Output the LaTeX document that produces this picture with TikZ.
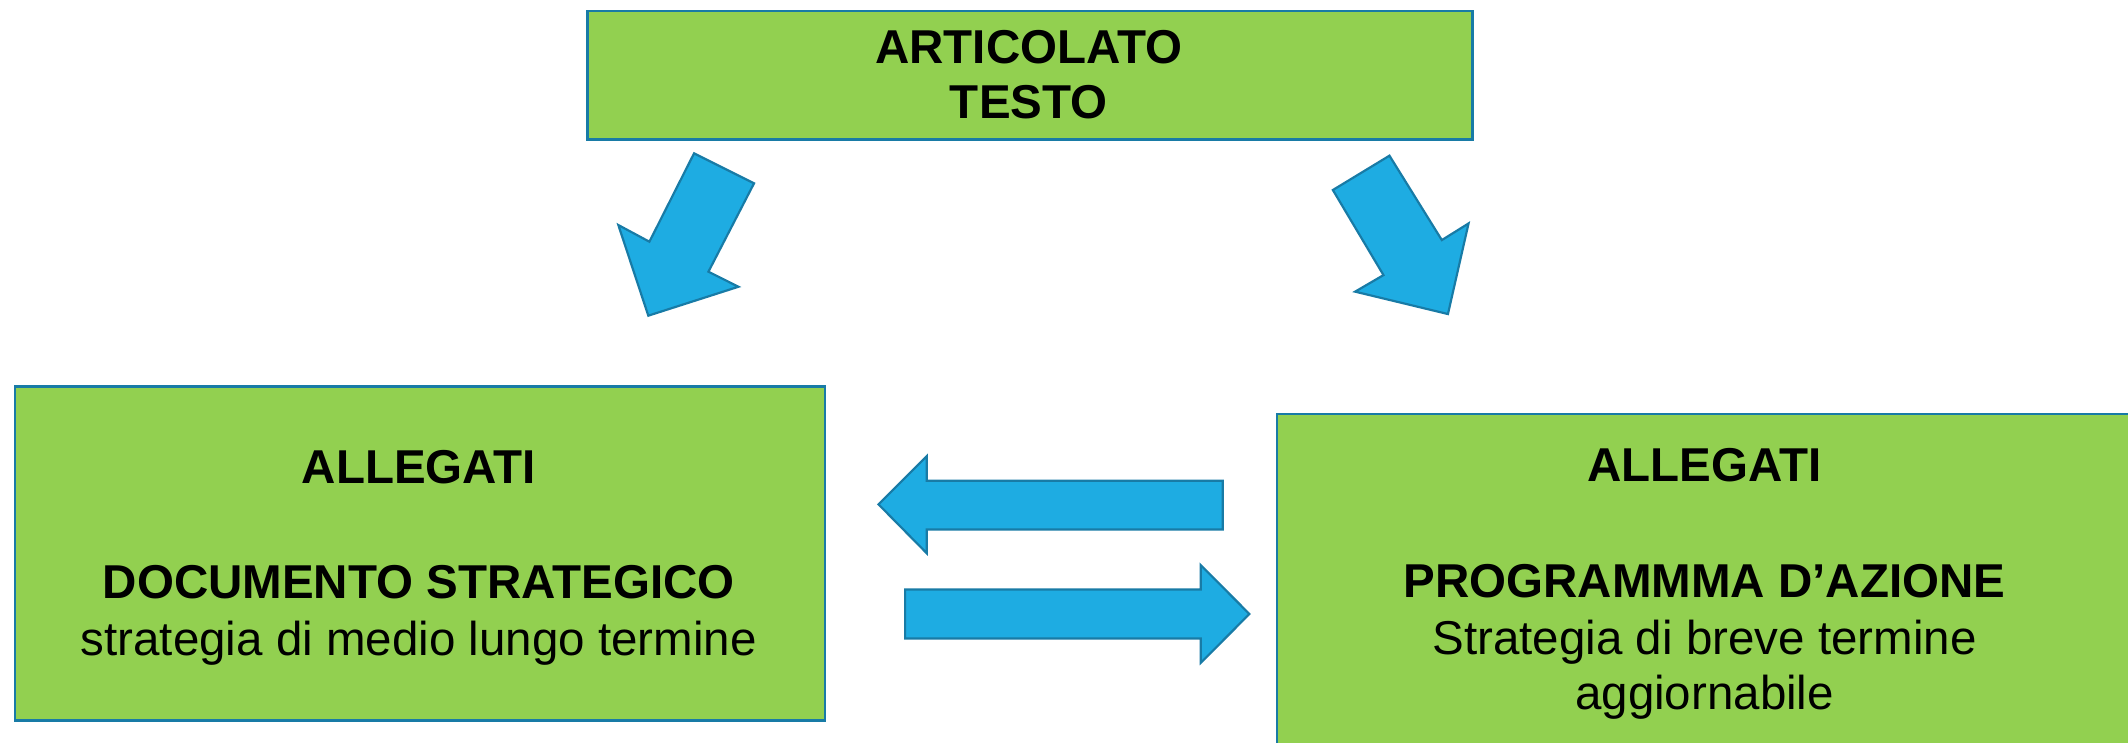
\documentclass[tikz,border=0pt]{standalone}
\usepackage{fontspec}
\setmainfont{Liberation Sans}
\definecolor{boxgreen}{RGB}{146,208,80}
\definecolor{edgeblue}{RGB}{24,123,166}
\definecolor{arrowblue}{RGB}{30,172,226}
\tikzset{
  greenbox/.style={draw=edgeblue, fill=boxgreen, line width=1.8pt, rectangle, inner sep=0pt, anchor=north west},
  txt/.style={anchor=base, inner sep=0pt, font=\fontsize{35}{42}\selectfont},
  btxt/.style={txt, font=\fontsize{35}{42}\selectfont\bfseries},
  blockarrow/.style={draw=edgeblue, fill=arrowblue, line width=1.6pt, line join=miter},
}
\begin{document}
\begin{tikzpicture}[x=1pt,y=-1pt]
\clip (0,0) rectangle (1568,547);
\useasboundingbox (0,0) rectangle (1568,547);
% boxes
\node[greenbox, minimum width=652pt, minimum height=95pt] (top) at (432,7) {};
\node[greenbox, minimum width=597pt, minimum height=246pt] (left) at (10,284) {};
\node[greenbox, minimum width=632pt, minimum height=270pt] (right) at (940,304) {};
% texts
\node[btxt] (t1) at (758,46.5) {ARTICOLATO};
\node[btxt] (t2) at (758,87) {TESTO};
\node[btxt] (l1) at (308.5,356) {ALLEGATI};
\node[btxt] (l2) at (308.5,441) {DOCUMENTO STRATEGICO};
\node[txt] (l3) at (308.5,483) {strategia di medio lungo termine};
\node[btxt] (r1) at (1256,355) {ALLEGATI};
\node[btxt] (r2) at (1256,440) {PROGRAMMMA D’AZIONE};
\node[txt] (r3) at (1256,482.5) {Strategia di breve termine};
\node[txt] (r4) at (1256,523) {aggiornabile};
% diagonal block arrows
\draw[blockarrow] (511.4,113) -- (555.6,135.1) -- (522,200.2) -- (544.1,211.3) -- (477.7,232.6) -- (455.6,165.8) -- (478.5,178.1) -- cycle;
\draw[blockarrow] (1023.8,114.7) -- (1062.4,176.9) -- (1082.1,164.6) -- (1066.9,231.4) -- (998.5,214.9) -- (1019.4,202.7) -- (982.1,140) -- cycle;
% horizontal block arrows
\draw[blockarrow] (647.3,371.6) -- (682.9,336) -- (682.9,354.2) -- (901,354.2) -- (901,390.1) -- (682.9,390.1) -- (682.9,407.7) -- cycle;
\draw[blockarrow] (666.9,434.3) -- (884.8,434.3) -- (884.8,416.4) -- (920.6,452.4) -- (884.8,488.4) -- (884.8,470.4) -- (666.9,470.4) -- cycle;
\end{tikzpicture}
\end{document}
